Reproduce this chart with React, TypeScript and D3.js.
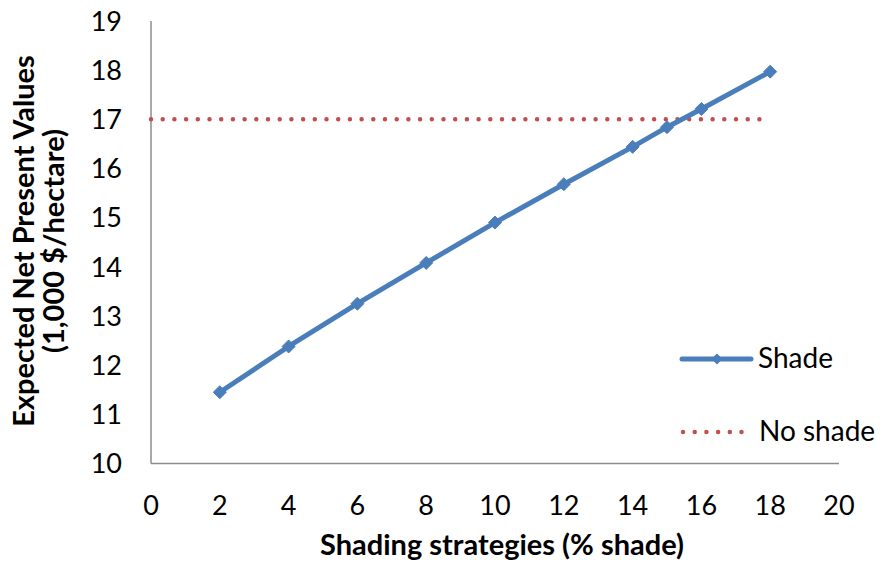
import React from "react";
import * as d3 from "d3";

const shadeX = [2, 4, 6, 8, 10, 12, 14, 15, 16, 18];
const shadeY = [11.45, 12.38, 13.25, 14.08, 14.9, 15.68, 16.44, 16.84, 17.21, 17.97];
const noShadeX = [0, 18];
const noShadeY = [17, 17];
const xTicks = [0, 2, 4, 6, 8, 10, 12, 14, 16, 18, 20];
const yTicks = [10, 11, 12, 13, 14, 15, 16, 17, 18, 19];

const W = 888, H = 563;
const left = 151, right = 839, top = 21, bottom = 463.5;
const FONT = "Lato, 'Open Sans', sans-serif";
const BLUE = "#4a7ebb";
const RED = "#c0504d";

export default function App() {
  const x = d3.scaleLinear().domain([0, 20]).range([left, right]);
  const y = d3.scaleLinear().domain([10, 19]).range([bottom, top]);
  const line = d3.line<[number, number]>().x(d => x(d[0])).y(d => y(d[1]));
  const shadePts: [number, number][] = shadeX.map((v, i) => [v, shadeY[i]]);
  const noPts: [number, number][] = noShadeX.map((v, i) => [v, noShadeY[i]]);
  const diamond = (cx: number, cy: number, r = 6.5) =>
    `M${cx},${cy - r}L${cx + r},${cy}L${cx},${cy + r}L${cx - r},${cy}Z`;

  return (
    <svg width={W} height={H} style={{ position: "absolute", left: 0, top: 0, background: "#fff" }}>
      <rect width={W} height={H} fill="#fff" />
      <line x1={left} x2={left} y1={top} y2={bottom} stroke="#8c8c8c" strokeWidth={1.5} />
      <line x1={left} x2={right} y1={bottom} y2={bottom} stroke="#8c8c8c" strokeWidth={1.5} />
      {yTicks.map(t => (
        <text key={"y" + t} x={122} y={y(t)} dy="0.36em" textAnchor="end" fontFamily={FONT} fontSize={27} fill="#000">{t}</text>
      ))}
      {xTicks.map(t => (
        <text key={"x" + t} x={x(t)} y={515} textAnchor="middle" fontFamily={FONT} fontSize={27} fill="#000">{t}</text>
      ))}
      <path d={line(noPts) || ""} fill="none" stroke={RED} strokeWidth={4.5} strokeLinecap="round" strokeDasharray="0 11.7" />
      <path d={line(shadePts) || ""} fill="none" stroke={BLUE} strokeWidth={5} strokeLinejoin="round" />
      {shadePts.map((p, i) => (
        <path key={i} d={diamond(x(p[0]), y(p[1]))} fill={BLUE} stroke={BLUE} strokeWidth={1} />
      ))}
      <text x={502} y={555} textAnchor="middle" fontFamily={FONT} fontWeight="bold" fontSize={29} fill="#000">Shading strategies (% shade)</text>
      <g transform="translate(0,241) rotate(-90)">
        <text x={0} y={34} textAnchor="middle" fontFamily={FONT} fontWeight="bold" fontSize={29} fill="#000">Expected Net Present Values</text>
        <text x={0} y={64} textAnchor="middle" fontFamily={FONT} fontWeight="bold" fontSize={29} fill="#000">(1,000 $/hectare)</text>
      </g>
      <line x1={682} x2={751} y1={359} y2={359} stroke={BLUE} strokeWidth={5} strokeLinecap="round" />
      <path d={diamond(717, 359, 5.5)} fill={BLUE} />
      <text x={758} y={368} fontFamily={FONT} fontSize={28} fill="#000">Shade</text>
      <line x1={683} x2={745} y1={432} y2={432} stroke={RED} strokeWidth={4.5} strokeLinecap="round" strokeDasharray="0 11.7" />
      <text x={759} y={441} fontFamily={FONT} fontSize={28} fill="#000">No shade</text>
    </svg>
  );
}
